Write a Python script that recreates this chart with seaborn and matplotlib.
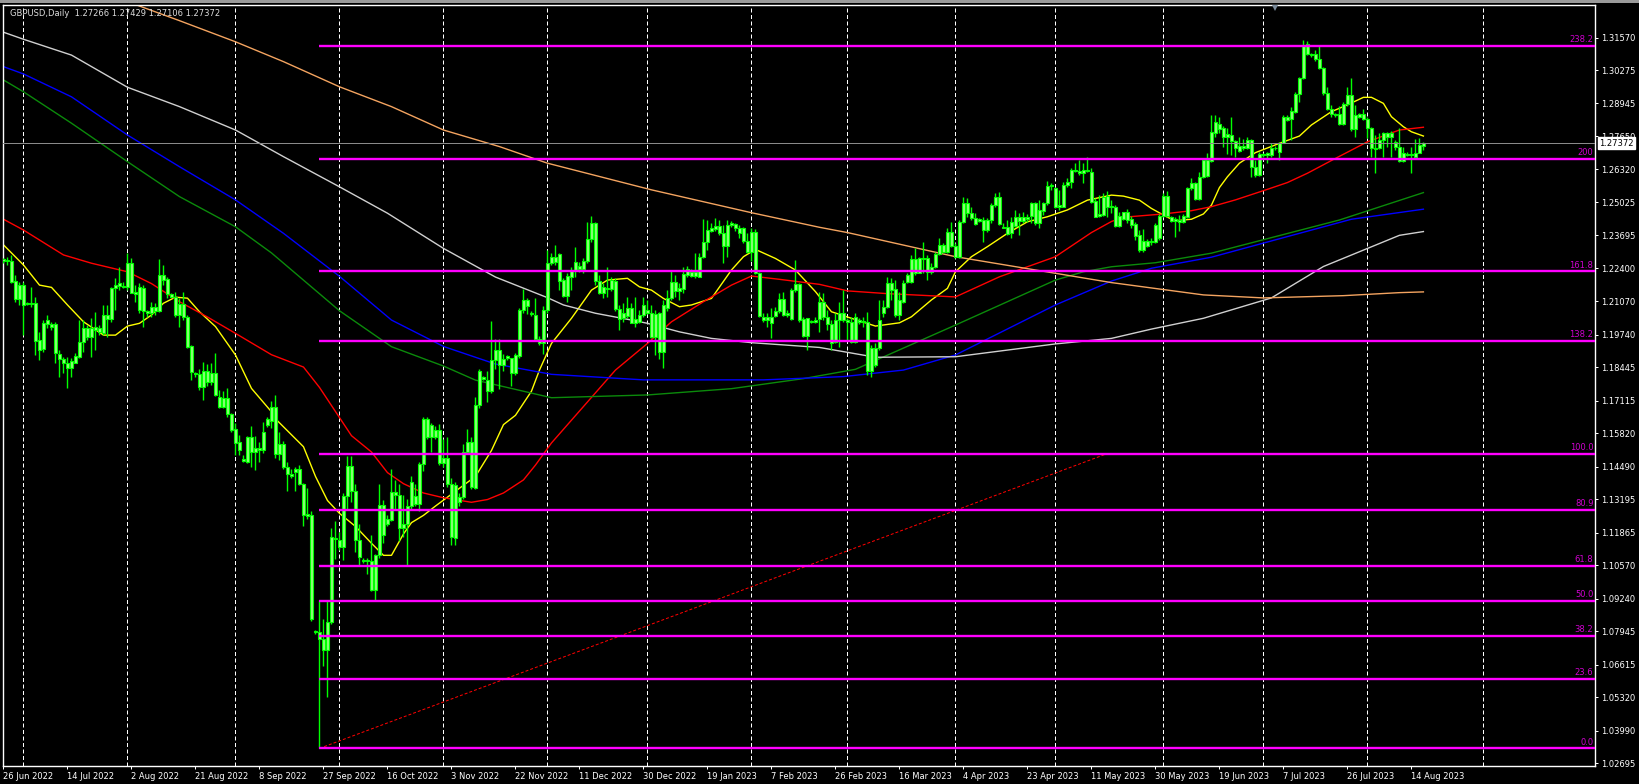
import numpy as np
import pandas as pd
import matplotlib
matplotlib.use("Agg")
import matplotlib.pyplot as plt
import matplotlib.transforms as mtransforms
from matplotlib.patches import Rectangle
import seaborn as sns

# GBPUSD daily candles, one entry per bar (bar 0 = 26 Jun 2022, Sunday bars included)
opens = [
    1.2267, 1.2271, 1.2269, 1.2188, 1.2115, 1.2172, 1.2099, 1.2097, 1.2099, 1.1954,
    1.1916, 1.2017, 1.2017, 1.2016, 1.1898, 1.1877, 1.1861, 1.1841, 1.1863, 1.1887,
    1.1947, 1.2003, 1.1967, 1.1993, 1.2000, 1.1983, 1.2053, 1.2036, 1.2159, 1.2168,
    1.2168, 1.2166, 1.2259, 1.2146, 1.2166, 1.2159, 1.2069, 1.2060, 1.2070, 1.2070,
    1.2212, 1.2195, 1.2137, 1.2126, 1.2053, 1.2096, 1.2044, 1.1930, 1.1821, 1.1818,
    1.1765, 1.1830, 1.1788, 1.1821, 1.1726, 1.1688, 1.1722, 1.1659, 1.1598, 1.1549,
    1.1479, 1.1470, 1.1566, 1.1509, 1.1516, 1.1516, 1.1616, 1.1632, 1.1689, 1.1500,
    1.1541, 1.1448, 1.1422, 1.1429, 1.1441, 1.1379, 1.1260, 1.1257, 1.0796, 1.0790,
    1.0766, 1.0722, 1.0830, 1.1167, 1.1158, 1.1129, 1.1335, 1.1451, 1.1353, 1.1158,
    1.1079, 1.1073, 1.1076, 1.0958, 1.1099, 1.1298, 1.1223, 1.1238, 1.1350, 1.1338,
    1.1205, 1.1220, 1.1294, 1.1333, 1.1301, 1.1459, 1.1640, 1.1566, 1.1594, 1.1594,
    1.1463, 1.1485, 1.1382, 1.1164, 1.1330, 1.1330, 1.1510, 1.1548, 1.1364, 1.1694,
    1.1805, 1.1795, 1.1750, 1.1876, 1.1912, 1.1856, 1.1883, 1.1883, 1.1824, 1.1890,
    1.2074, 1.2111, 1.2063, 1.2052, 1.1957, 1.1942, 1.2074, 1.2259, 1.2285, 1.2296,
    1.2192, 1.2129, 1.2206, 1.2232, 1.2235, 1.2235, 1.2268, 1.2354, 1.2420, 1.2190,
    1.2142, 1.2159, 1.2155, 1.2190, 1.2076, 1.2040, 1.2049, 1.2080, 1.2023, 1.2027,
    1.2053, 1.2073, 1.2060, 1.1967, 1.2060, 1.1907, 1.2080, 1.2119, 1.2186, 1.2150,
    1.2155, 1.2212, 1.2225, 1.2208, 1.2206, 1.2283, 1.2345, 1.2389, 1.2394, 1.2407,
    1.2378, 1.2328, 1.2411, 1.2414, 1.2398, 1.2398, 1.2349, 1.2305, 1.2385, 1.2219,
    1.2047, 1.2033, 1.2047, 1.2049, 1.2070, 1.2116, 1.2053, 1.2036, 1.2153, 1.2175,
    1.2036, 1.1970, 1.2031, 1.2027, 1.2037, 1.2106, 1.2047, 1.2018, 1.1947, 1.2033,
    1.2060, 1.2033, 1.2027, 1.1947, 1.2033, 1.2027, 1.2027, 1.1830, 1.1920, 1.1920,
    1.2060, 1.2086, 1.2179, 1.2155, 1.2053, 1.2106, 1.2186, 1.2186, 1.2274, 1.2222,
    1.2278, 1.2278, 1.2225, 1.2245, 1.2296, 1.2331, 1.2305, 1.2385, 1.2327, 1.2285,
    1.2424, 1.2497, 1.2460, 1.2438, 1.2434, 1.2431, 1.2391, 1.2431, 1.2491, 1.2524,
    1.2404, 1.2402, 1.2378, 1.2407, 1.2442, 1.2429, 1.2434, 1.2447, 1.2497, 1.2418,
    1.2468, 1.2497, 1.2566, 1.2557, 1.2484, 1.2484, 1.2570, 1.2584, 1.2630, 1.2626,
    1.2617, 1.2630, 1.2623, 1.2507, 1.2447, 1.2451, 1.2527, 1.2484, 1.2484, 1.2407,
    1.2434, 1.2463, 1.2434, 1.2414, 1.2371, 1.2312, 1.2349, 1.2345, 1.2345, 1.2358,
    1.2447, 1.2527, 1.2442, 1.2428, 1.2431, 1.2424, 1.2442, 1.2557, 1.2580, 1.2513,
    1.2603, 1.2606, 1.2667, 1.2776, 1.2813, 1.2796, 1.2763, 1.2769, 1.2747, 1.2707,
    1.2726, 1.2716, 1.2749, 1.2643, 1.2610, 1.2692, 1.2690, 1.2690, 1.2719, 1.2703,
    1.2739, 1.2839, 1.2832, 1.2862, 1.2932, 1.2995, 1.3131, 1.3091, 1.3091, 1.3070,
    1.3034, 1.2935, 1.2871, 1.2851, 1.2853, 1.2813, 1.2892, 1.2928, 1.2792, 1.2839,
    1.2853, 1.2832, 1.2796, 1.2716, 1.2716, 1.2749, 1.2778, 1.2760, 1.2743, 1.2720,
    1.2667, 1.2694, 1.2690, 1.2683, 1.2699, 1.2727,
]
highs = [
    1.2278, 1.2285, 1.2292, 1.2212, 1.2186, 1.2186, 1.2106, 1.2166, 1.2126, 1.1987,
    1.2033, 1.2053, 1.2027, 1.2027, 1.1914, 1.1887, 1.1887, 1.1881, 1.1901, 1.2033,
    1.2033, 1.2013, 1.2040, 1.2066, 1.2013, 1.2093, 1.2093, 1.2166, 1.2199, 1.2245,
    1.2186, 1.2298, 1.2278, 1.2172, 1.2179, 1.2172, 1.2073, 1.2106, 1.2099, 1.2275,
    1.2252, 1.2206, 1.2142, 1.2146, 1.2119, 1.2146, 1.2053, 1.1934, 1.1828, 1.1837,
    1.1867, 1.1858, 1.1863, 1.1901, 1.1755, 1.1752, 1.1761, 1.1662, 1.1622, 1.1576,
    1.1496, 1.1572, 1.1612, 1.1572, 1.1549, 1.1629, 1.1649, 1.1712, 1.1736, 1.1588,
    1.1551, 1.1470, 1.1441, 1.1448, 1.1456, 1.1385, 1.1363, 1.1272, 1.0800, 1.0918,
    1.0844, 1.0918, 1.1205, 1.1235, 1.1190, 1.1345, 1.1492, 1.1492, 1.1382, 1.1220,
    1.1087, 1.1087, 1.1179, 1.1102, 1.1382, 1.1316, 1.1257, 1.1441, 1.1397, 1.1382,
    1.1338, 1.1323, 1.1412, 1.1382, 1.1470, 1.1648, 1.1648, 1.1625, 1.1610, 1.1618,
    1.1559, 1.1566, 1.1404, 1.1389, 1.1345, 1.1541, 1.1599, 1.1566, 1.1728, 1.1839,
    1.1809, 1.1831, 1.2030, 1.1957, 1.1957, 1.1898, 1.1895, 1.1883, 1.1901, 1.2082,
    1.2156, 1.2122, 1.2067, 1.2119, 1.1971, 1.2089, 1.2310, 1.2299, 1.2332, 1.2301,
    1.2199, 1.2219, 1.2245, 1.2325, 1.2265, 1.2279, 1.2424, 1.2447, 1.2424, 1.2212,
    1.2179, 1.2243, 1.2206, 1.2199, 1.2093, 1.2100, 1.2126, 1.2100, 1.2126, 1.2073,
    1.2126, 1.2113, 1.2093, 1.2073, 1.2066, 1.2113, 1.2153, 1.2232, 1.2212, 1.2182,
    1.2245, 1.2248, 1.2235, 1.2299, 1.2299, 1.2434, 1.2431, 1.2418, 1.2437, 1.2431,
    1.2411, 1.2431, 1.2428, 1.2420, 1.2411, 1.2405, 1.2378, 1.2398, 1.2394, 1.2225,
    1.2060, 1.2060, 1.2080, 1.2086, 1.2139, 1.2146, 1.2073, 1.2159, 1.2272, 1.2179,
    1.2047, 1.2040, 1.2033, 1.2044, 1.2146, 1.2139, 1.2073, 1.2033, 1.2060, 1.2106,
    1.2152, 1.2040, 1.2047, 1.2060, 1.2040, 1.2047, 1.2066, 1.1934, 1.1941, 1.2113,
    1.2113, 1.2206, 1.2199, 1.2192, 1.2146, 1.2192, 1.2219, 1.2292, 1.2318, 1.2285,
    1.2345, 1.2292, 1.2259, 1.2305, 1.2358, 1.2338, 1.2398, 1.2424, 1.2338, 1.2431,
    1.2524, 1.2518, 1.2484, 1.2458, 1.2438, 1.2444, 1.2438, 1.2497, 1.2540, 1.2544,
    1.2418, 1.2431, 1.2444, 1.2471, 1.2458, 1.2464, 1.2454, 1.2504, 1.2504, 1.2511,
    1.2504, 1.2587, 1.2577, 1.2564, 1.2550, 1.2584, 1.2597, 1.2637, 1.2659, 1.2670,
    1.2656, 1.2680, 1.2637, 1.2517, 1.2531, 1.2537, 1.2545, 1.2511, 1.2491, 1.2464,
    1.2464, 1.2473, 1.2447, 1.2424, 1.2391, 1.2394, 1.2354, 1.2358, 1.2418, 1.2455,
    1.2540, 1.2545, 1.2447, 1.2444, 1.2451, 1.2455, 1.2564, 1.2597, 1.2584, 1.2623,
    1.2672, 1.2699, 1.2849, 1.2849, 1.2839, 1.2805, 1.2796, 1.2839, 1.2749, 1.2760,
    1.2752, 1.2760, 1.2752, 1.2670, 1.2703, 1.2696, 1.2703, 1.2736, 1.2726, 1.2743,
    1.2849, 1.2849, 1.2882, 1.2942, 1.3001, 1.3147, 1.3144, 1.3097, 1.3107, 1.3127,
    1.3041, 1.2959, 1.2888, 1.2855, 1.2884, 1.2902, 1.2959, 1.2995, 1.2888, 1.2858,
    1.2871, 1.2839, 1.2800, 1.2769, 1.2776, 1.2782, 1.2782, 1.2786, 1.2749, 1.2796,
    1.2723, 1.2703, 1.2723, 1.2752, 1.2756, 1.2743,
]
lows = [
    1.2259, 1.2252, 1.2179, 1.2106, 1.2093, 1.1974, 1.2093, 1.2086, 1.1894, 1.1874,
    1.1907, 1.2000, 1.1993, 1.1861, 1.1808, 1.1821, 1.1761, 1.1808, 1.1861, 1.1881,
    1.1907, 1.1954, 1.1887, 1.1914, 1.1974, 1.1974, 1.1967, 1.2027, 1.2073, 1.2153,
    1.2159, 1.2153, 1.2139, 1.2106, 1.2060, 1.2004, 1.2046, 1.2046, 1.2053, 1.2066,
    1.2172, 1.2119, 1.2123, 1.2046, 1.2007, 1.2033, 1.1920, 1.1795, 1.1808, 1.1755,
    1.1715, 1.1771, 1.1775, 1.1731, 1.1682, 1.1682, 1.1649, 1.1589, 1.1496, 1.1496,
    1.1470, 1.1463, 1.1450, 1.1437, 1.1470, 1.1505, 1.1609, 1.1605, 1.1485, 1.1478,
    1.1441, 1.1353, 1.1404, 1.1353, 1.1375, 1.1213, 1.1242, 1.0837, 1.0785, 1.0329,
    1.0657, 1.0535, 1.0822, 1.1084, 1.1117, 1.1080, 1.1279, 1.1308, 1.1110, 1.1058,
    1.1065, 1.1021, 1.0955, 1.0918, 1.1087, 1.1146, 1.1213, 1.1235, 1.1279, 1.1154,
    1.1168, 1.1058, 1.1279, 1.1294, 1.1272, 1.1434, 1.1559, 1.1507, 1.1559, 1.1456,
    1.1448, 1.1367, 1.1139, 1.1139, 1.1294, 1.1323, 1.1507, 1.1360, 1.1360, 1.1684,
    1.1795, 1.1706, 1.1743, 1.1839, 1.1758, 1.1831, 1.1876, 1.1772, 1.1816, 1.1883,
    1.2060, 1.2057, 1.2048, 1.1954, 1.1935, 1.1898, 1.2060, 1.2252, 1.2252, 1.2153,
    1.2123, 1.2106, 1.2153, 1.2206, 1.2225, 1.2219, 1.2261, 1.2345, 1.2172, 1.2137,
    1.2119, 1.2126, 1.2150, 1.2070, 1.1994, 1.2027, 1.2040, 1.2020, 1.2007, 1.2020,
    1.2047, 1.2057, 1.1960, 1.1894, 1.1877, 1.1841, 1.2070, 1.2113, 1.2126, 1.2113,
    1.2139, 1.2203, 1.2203, 1.2199, 1.2203, 1.2279, 1.2312, 1.2385, 1.2389, 1.2370,
    1.2261, 1.2285, 1.2402, 1.2389, 1.2358, 1.2338, 1.2299, 1.2269, 1.2216, 1.2047,
    1.2027, 1.2007, 1.1960, 1.2047, 1.2060, 1.2049, 1.2047, 1.2033, 1.2146, 1.2027,
    1.1967, 1.1914, 1.2023, 1.2020, 1.1987, 1.2033, 1.1994, 1.1914, 1.1941, 1.1927,
    1.2027, 1.1954, 1.1941, 1.1941, 1.2018, 1.2007, 1.1815, 1.1806, 1.1848, 1.1914,
    1.2047, 1.2080, 1.2113, 1.2047, 1.2033, 1.2100, 1.2179, 1.2179, 1.2212, 1.2219,
    1.2219, 1.2192, 1.2216, 1.2239, 1.2292, 1.2299, 1.2299, 1.2325, 1.2278, 1.2278,
    1.2418, 1.2444, 1.2431, 1.2411, 1.2424, 1.2345, 1.2385, 1.2418, 1.2484, 1.2411,
    1.2398, 1.2371, 1.2358, 1.2404, 1.2371, 1.2418, 1.2424, 1.2418, 1.2411, 1.2398,
    1.2451, 1.2491, 1.2550, 1.2477, 1.2471, 1.2481, 1.2564, 1.2557, 1.2623, 1.2610,
    1.2577, 1.2623, 1.2497, 1.2442, 1.2444, 1.2447, 1.2442, 1.2458, 1.2402, 1.2402,
    1.2431, 1.2418, 1.2398, 1.2351, 1.2305, 1.2305, 1.2325, 1.2332, 1.2338, 1.2351,
    1.2442, 1.2442, 1.2424, 1.2365, 1.2389, 1.2420, 1.2438, 1.2550, 1.2511, 1.2511,
    1.2597, 1.2601, 1.2663, 1.2763, 1.2776, 1.2723, 1.2694, 1.2690, 1.2683, 1.2703,
    1.2710, 1.2712, 1.2603, 1.2603, 1.2606, 1.2683, 1.2656, 1.2683, 1.2710, 1.2670,
    1.2736, 1.2826, 1.2749, 1.2855, 1.2902, 1.2991, 1.3087, 1.3081, 1.3065, 1.3030,
    1.2928, 1.2869, 1.2842, 1.2842, 1.2809, 1.2809, 1.2884, 1.2786, 1.2763, 1.2835,
    1.2829, 1.2756, 1.2680, 1.2619, 1.2712, 1.2683, 1.2723, 1.2683, 1.2710, 1.2663,
    1.2663, 1.2686, 1.2617, 1.2680, 1.2696, 1.2710,
]
closes = [
    1.2275, 1.2269, 1.2186, 1.2117, 1.2171, 1.2093, 1.2097, 1.2099, 1.1951, 1.1914,
    1.2020, 1.2033, 1.2004, 1.1901, 1.1877, 1.1863, 1.1841, 1.1870, 1.1890, 1.1947,
    1.2000, 1.1967, 1.2000, 1.2007, 1.1987, 1.2053, 1.2036, 1.2159, 1.2172, 1.2179,
    1.2163, 1.2259, 1.2142, 1.2137, 1.2073, 1.2070, 1.2060, 1.2084, 1.2084, 1.2212,
    1.2192, 1.2137, 1.2126, 1.2053, 1.2097, 1.2044, 1.1927, 1.1828, 1.1817, 1.1765,
    1.1830, 1.1788, 1.1824, 1.1735, 1.1686, 1.1722, 1.1658, 1.1596, 1.1545, 1.1516,
    1.1474, 1.1566, 1.1509, 1.1523, 1.1524, 1.1586, 1.1638, 1.1689, 1.1500, 1.1541,
    1.1448, 1.1422, 1.1412, 1.1441, 1.1379, 1.1257, 1.1252, 1.0844, 1.0790, 1.0763,
    1.0722, 1.0830, 1.1171, 1.1161, 1.1129, 1.1335, 1.1451, 1.1353, 1.1158, 1.1090,
    1.1073, 1.1079, 1.0958, 1.1099, 1.1298, 1.1176, 1.1242, 1.1350, 1.1338, 1.1205,
    1.1220, 1.1294, 1.1389, 1.1301, 1.1459, 1.1640, 1.1566, 1.1615, 1.1566, 1.1463,
    1.1485, 1.1382, 1.1168, 1.1378, 1.1308, 1.1510, 1.1548, 1.1367, 1.1694, 1.1831,
    1.1800, 1.1750, 1.1876, 1.1912, 1.1856, 1.1880, 1.1889, 1.1824, 1.1893, 1.2074,
    1.2111, 1.2089, 1.2057, 1.1957, 1.1942, 1.2074, 1.2259, 1.2285, 1.2265, 1.2190,
    1.2129, 1.2208, 1.2232, 1.2265, 1.2248, 1.2268, 1.2354, 1.2418, 1.2190, 1.2142,
    1.2166, 1.2155, 1.2192, 1.2076, 1.2036, 1.2060, 1.2080, 1.2023, 1.2036, 1.2053,
    1.2093, 1.2062, 1.1967, 1.2057, 1.1907, 1.2093, 1.2119, 1.2186, 1.2150, 1.2162,
    1.2216, 1.2235, 1.2208, 1.2225, 1.2283, 1.2345, 1.2391, 1.2398, 1.2407, 1.2378,
    1.2328, 1.2411, 1.2418, 1.2398, 1.2378, 1.2349, 1.2305, 1.2385, 1.2219, 1.2049,
    1.2033, 1.2047, 1.2023, 1.2070, 1.2116, 1.2053, 1.2060, 1.2153, 1.2175, 1.2033,
    1.1970, 1.2040, 1.2027, 1.2034, 1.2106, 1.2047, 1.2018, 1.1941, 1.2033, 1.2060,
    1.2033, 1.2027, 1.1947, 1.2047, 1.2027, 1.2031, 1.1830, 1.1920, 1.1854, 1.2033,
    1.2086, 1.2179, 1.2152, 1.2053, 1.2113, 1.2179, 1.2212, 1.2274, 1.2219, 1.2278,
    1.2276, 1.2225, 1.2245, 1.2296, 1.2331, 1.2305, 1.2385, 1.2327, 1.2285, 1.2424,
    1.2497, 1.2458, 1.2438, 1.2415, 1.2429, 1.2391, 1.2431, 1.2491, 1.2524, 1.2415,
    1.2400, 1.2375, 1.2424, 1.2442, 1.2429, 1.2442, 1.2444, 1.2497, 1.2418, 1.2471,
    1.2497, 1.2566, 1.2570, 1.2484, 1.2491, 1.2570, 1.2584, 1.2630, 1.2626, 1.2617,
    1.2630, 1.2626, 1.2504, 1.2444, 1.2455, 1.2524, 1.2484, 1.2487, 1.2407, 1.2447,
    1.2463, 1.2431, 1.2411, 1.2367, 1.2312, 1.2349, 1.2328, 1.2349, 1.2411, 1.2447,
    1.2527, 1.2447, 1.2428, 1.2434, 1.2424, 1.2447, 1.2557, 1.2577, 1.2513, 1.2601,
    1.2670, 1.2670, 1.2782, 1.2822, 1.2792, 1.2763, 1.2772, 1.2747, 1.2716, 1.2726,
    1.2716, 1.2749, 1.2643, 1.2610, 1.2694, 1.2688, 1.2696, 1.2719, 1.2716, 1.2739,
    1.2839, 1.2829, 1.2866, 1.2932, 1.2995, 1.3127, 1.3091, 1.3087, 1.3070, 1.3034,
    1.2935, 1.2871, 1.2853, 1.2847, 1.2813, 1.2892, 1.2928, 1.2792, 1.2849, 1.2853,
    1.2832, 1.2796, 1.2716, 1.2712, 1.2749, 1.2778, 1.2760, 1.2778, 1.2720, 1.2667,
    1.2699, 1.2690, 1.2694, 1.2699, 1.2730, 1.2737,
]
assert len(opens) == len(highs) == len(lows) == len(closes) == 356

header_ohlc = [1.27266, 1.27429, 1.27106, 1.27372]
last_price = 1.27372

# moving averages (bar index, price)
ma_yellow_bars = [0, 5, 9, 12, 16, 20, 25, 28, 31, 34, 37, 40, 43, 46, 49, 53, 58, 62, 67, 68,
                  75, 78, 81, 84, 88, 92, 95, 97, 100, 102, 105, 108, 113, 118, 122, 125, 128,
                  132, 134, 137, 142, 147, 151, 156, 159, 162, 165, 169, 172, 177, 182, 185,
                  188, 193, 198, 203, 207, 212, 218, 224, 227, 232, 236, 238, 242, 246, 251,
                  256, 261, 266, 271, 277, 280, 284, 287, 291, 293, 297, 300, 302, 304, 306,
                  309, 313, 319, 324, 327, 332, 336, 340, 342, 345, 347, 350, 352, 355]
ma_yellow_vals = [1.2332, 1.2252, 1.2172, 1.2163, 1.2093, 1.2026, 1.1973, 1.1973, 1.2009, 1.2020,
                  1.2053, 1.2100, 1.2124, 1.2120, 1.2066, 1.2007, 1.1894, 1.1761, 1.1668, 1.1640,
                  1.1529, 1.1411, 1.1315, 1.1264, 1.1212, 1.1145, 1.1097, 1.1097, 1.1182, 1.1227,
                  1.1256, 1.1293, 1.1352, 1.1411, 1.1514, 1.1617, 1.1654, 1.1750, 1.1834, 1.1940,
                  1.2040, 1.2152, 1.2192, 1.2199, 1.2165, 1.2152, 1.2119, 1.2086, 1.2093, 1.2119,
                  1.2232, 1.2285, 1.2314, 1.2278, 1.2232, 1.2146, 1.2066, 1.2040, 1.2009, 1.2022,
                  1.2046, 1.2113, 1.2159, 1.2225, 1.2285, 1.2325, 1.2378, 1.2424, 1.2444, 1.2471,
                  1.2510, 1.2530, 1.2526, 1.2510, 1.2477, 1.2442, 1.2428, 1.2434, 1.2455, 1.2490,
                  1.2560, 1.2603, 1.2657, 1.2699, 1.2736, 1.2765, 1.2809, 1.2862, 1.2889, 1.2919,
                  1.2919, 1.2895, 1.2842, 1.2802, 1.2782, 1.2765]

ma_red_bars = [0, 5, 15, 22, 31, 37, 44, 51, 58, 67, 75, 79, 83, 87, 92, 96, 100, 105, 110, 117,
               121, 125, 130, 133, 137, 153, 161, 167, 175, 182, 187, 194, 204, 211, 221, 238,
               249, 263, 272, 277, 280, 290, 297, 302, 308, 316, 321, 326, 333, 341, 349, 355]
ma_red_vals = [1.2434, 1.2391, 1.2292, 1.2259, 1.2225, 1.2178, 1.2106, 1.2045, 1.1980, 1.1895,
               1.1846, 1.1765, 1.1669, 1.1573, 1.1508, 1.1426, 1.1382, 1.1345, 1.1326, 1.1308,
               1.1319, 1.1345, 1.1397, 1.1456, 1.1544, 1.1834, 1.1940, 1.2026, 1.2106, 1.2172,
               1.2208, 1.2195, 1.2175, 1.2149, 1.2138, 1.2125, 1.2205, 1.2285, 1.2381, 1.2425,
               1.2442, 1.2455, 1.2468, 1.2484, 1.2511, 1.2553, 1.2580, 1.2617, 1.2676, 1.2742,
               1.2789, 1.2800]

ma_green_bars = [0, 5, 17, 31, 44, 58, 67, 84, 97, 110, 118, 137, 161, 182, 200, 213, 238, 263,
                 270, 277, 288, 302, 334, 355]
ma_green_vals = [1.2988, 1.2941, 1.2816, 1.2663, 1.2524, 1.2404, 1.2300, 1.2070, 1.1927, 1.1850,
                 1.1794, 1.1724, 1.1735, 1.1760, 1.1800, 1.1837, 1.2013, 1.2192, 1.2225, 1.2245,
                 1.2261, 1.2299, 1.2431, 1.2540]

ma_blue_bars = [0, 5, 17, 31, 44, 58, 70, 84, 97, 110, 123, 137, 160, 190, 210, 225, 238, 263,
                277, 287, 302, 337, 355]
ma_blue_vals = [1.3041, 1.3012, 1.2921, 1.2769, 1.2643, 1.2511, 1.2378, 1.2207, 1.2033, 1.1928,
                1.1858, 1.1817, 1.1795, 1.1795, 1.1808, 1.1834, 1.1894, 1.2093, 1.2188, 1.2239,
                1.2283, 1.2434, 1.2474]

ma_silver_bars = [0, 5, 17, 31, 44, 58, 70, 84, 96, 110, 123, 136, 140, 148, 157, 161, 169, 177,
                  187, 204, 218, 238, 263, 277, 287, 300, 317, 330, 349, 355]
ma_silver_vals = [1.3178, 1.3150, 1.3087, 1.2959, 1.2882, 1.2789, 1.2683, 1.2563, 1.2458, 1.2318,
                  1.2204, 1.2122, 1.2093, 1.2060, 1.2033, 1.2020, 1.1986, 1.1960, 1.1943, 1.1924,
                  1.1885, 1.1887, 1.1938, 1.1960, 1.1997, 1.2040, 1.2121, 1.2246, 1.2370, 1.2385]

ma_orange_bars = [30, 33, 44, 58, 70, 84, 97, 110, 124, 136, 162, 187, 204, 211, 238, 263, 277,
                  300, 315, 335, 349, 355]
ma_orange_vals = [1.3300, 1.3288, 1.3224, 1.3140, 1.3061, 1.2961, 1.2882, 1.2789, 1.2723, 1.2657,
                  1.2551, 1.2460, 1.2402, 1.2381, 1.2285, 1.2219, 1.2182, 1.2133, 1.2121, 1.2130,
                  1.2142, 1.2145]

# fibonacci retracement drawn from the Sep 2022 low
fib_low = 1.0329
fib_high = 1.1502
fib_start_bar = 79
fib_trend_end_bar = 276
fib_levels = [0.0, 23.6, 38.2, 50.0, 61.8, 80.9, 100.0, 138.2, 161.8, 200.0, 238.2]
fib_labels = ["0.0", "23.6", "38.2", "50.0", "61.8", "80.9", "100.0", "138.2", "161.8", "200", "238.2"]

price_ticks = [1.02695, 1.03990, 1.05320, 1.06615, 1.07945, 1.09240, 1.10570, 1.11865, 1.13195,
               1.14490, 1.15820, 1.17115, 1.18445, 1.19740, 1.21070, 1.22400, 1.23695, 1.25025,
               1.26320, 1.27650, 1.28945, 1.30275, 1.31570]

date_labels = ["26 Jun 2022", "14 Jul 2022", "2 Aug 2022", "21 Aug 2022", "8 Sep 2022",
               "27 Sep 2022", "16 Oct 2022", "3 Nov 2022", "22 Nov 2022", "11 Dec 2022",
               "30 Dec 2022", "19 Jan 2023", "7 Feb 2023", "26 Feb 2023", "16 Mar 2023",
               "4 Apr 2023", "23 Apr 2023", "11 May 2023", "30 May 2023", "19 Jun 2023",
               "7 Jul 2023", "26 Jul 2023", "14 Aug 2023"]
date_label_bars = list(range(0, 353, 16))
month_start_bars = [5, 31, 58, 84, 110, 136, 161, 187, 211, 238, 263, 290, 315, 341, 370]

# ---------------------------------------------------------------- figure
W, H = 1640, 784
fig = plt.figure(figsize=(W / 100, H / 100), dpi=100, facecolor="black")
ax = fig.add_axes([2.7 / W, 1 - 766 / H, (1595 - 2.7) / W, (766 - 4.5) / H])
ax.set_facecolor("black")
ymin, ymax = 1.02589, 1.32883
xmin, xmax = -0.2, 397.9

px = 0.72  # one pixel in points

# month separators
ax.vlines(month_start_bars, ymin, ymax, color="white", lw=px, linestyle=(0, (4, 2.5)), zorder=1)

# moving averages via seaborn
ma_colors = {"yellow": "#ffff00", "red": "#ff0000", "green": "#0b8a0b",
             "blue": "#0000ff", "silver": "#d0d0d0", "orange": "#f4a460"}
ma_frames = []
for name, b, v in [("yellow", ma_yellow_bars, ma_yellow_vals), ("red", ma_red_bars, ma_red_vals),
                   ("green", ma_green_bars, ma_green_vals), ("blue", ma_blue_bars, ma_blue_vals),
                   ("silver", ma_silver_bars, ma_silver_vals), ("orange", ma_orange_bars, ma_orange_vals)]:
    ma_frames.append(pd.DataFrame({"bar": b, "price": v, "ma": name}))
ma_df = pd.concat(ma_frames, ignore_index=True)
sns.lineplot(data=ma_df, x="bar", y="price", hue="ma", palette=ma_colors, estimator=None,
             units="ma", linewidth=1.0, legend=False, ax=ax, zorder=2)

# candles
bars = np.arange(len(closes))
o = np.array(opens); c = np.array(closes)
ax.vlines(bars, lows, highs, color="#00ff00", lw=1.0, zorder=3)
body_low = np.minimum(o, c)
body_h = np.maximum(np.abs(c - o), 0.0002)
ax.bar(bars, body_h, bottom=body_low, width=0.72, color="#8cff78", edgecolor="#00ff00",
       linewidth=0.8, zorder=4)

# fibonacci trend line and levels
ax.plot([fib_start_bar, fib_trend_end_bar], [fib_low, fib_high], color="#ff0000", lw=px,
        linestyle=(0, (3, 2)), zorder=5)
fib_prices = [fib_low + lv / 100 * (fib_high - fib_low) for lv in fib_levels]
ax.hlines(fib_prices, fib_start_bar, xmax, color="#ff00ff", lw=1.7, zorder=6)
for p, lab in zip(fib_prices, fib_labels):
    ax.text(xmax - 0.4, p + 0.0007, lab, ha="right", va="bottom", color="#d000d0",
            fontsize=6, zorder=7)

# current price line
ax.axhline(last_price, color="#8a8a8a", lw=px, zorder=5)

ax.set_xlim(xmin, xmax)
ax.set_ylim(ymin, ymax)

# axes styling
for s in ax.spines.values():
    s.set_color("white")
    s.set_linewidth(1.0)
ax.yaxis.tick_right()
ax.set_yticks(price_ticks)
ax.set_yticklabels([f"{v:.5f}" for v in price_ticks])
ax.tick_params(axis="y", colors="white", labelcolor="white", length=2.5, width=px,
               labelsize=6, pad=2)
ax.set_xticks(date_label_bars)
ax.set_xticklabels(date_labels)
for t in ax.get_xticklabels():
    t.set_horizontalalignment("left")
ax.tick_params(axis="x", colors="white", labelcolor="white", length=2.5, width=px,
               labelsize=6, pad=2)
ax.set_xlabel("")
ax.set_ylabel("")

# price tag on the right scale
blend = mtransforms.blended_transform_factory(ax.transAxes, ax.transData)
ax.text(1.0 + 4 / 1592, last_price, f"{last_price:.5f}", transform=blend, ha="left", va="center",
        fontsize=6, color="black", zorder=10, clip_on=False,
        bbox=dict(facecolor="white", edgecolor="white", boxstyle="square,pad=0.15"))

# header
ax.text(7 / 1592, 1 - 9 / 761.5, "GBPUSD,Daily  " + " ".join(f"{v:.5f}" for v in header_ohlc),
        transform=ax.transAxes, ha="left", va="center", fontsize=6, color="#dcdcdc", zorder=10)

# chart shift marker
ax.plot([318], [0.995], marker="v", markersize=5, color="#7a8a9a", markeredgewidth=0,
        transform=ax.get_xaxis_transform(), clip_on=False, zorder=10)

# window strip at the very top
fig.patches.append(Rectangle((0, 1 - 3 / H), 1, 3 / H, transform=fig.transFigure,
                             facecolor="#9a9a9a", edgecolor="none"))

fig.savefig("out.png", dpi=100, facecolor="black")
